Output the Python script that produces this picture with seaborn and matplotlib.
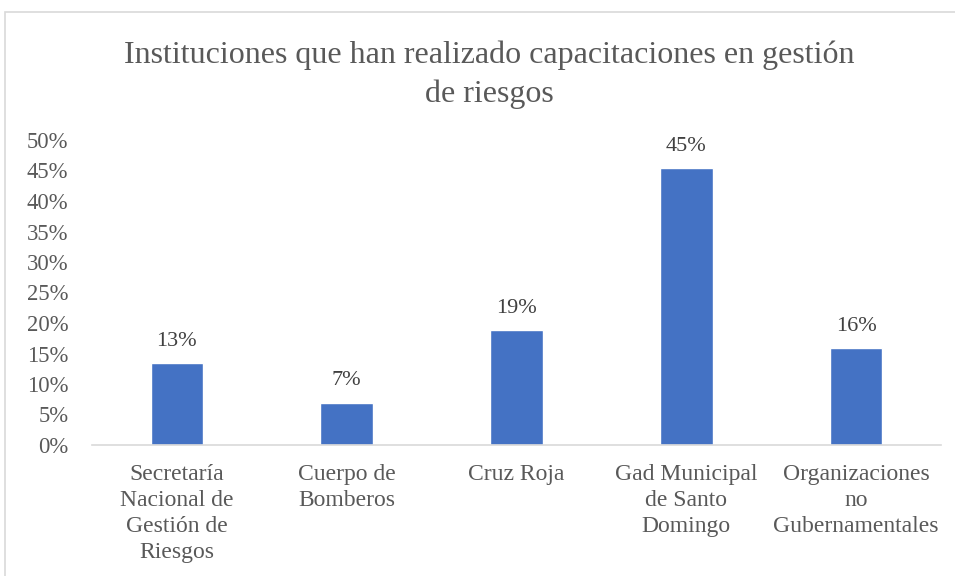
import matplotlib
matplotlib.use("Agg")
import matplotlib.pyplot as plt
import matplotlib.patches as patches
from matplotlib.ticker import PercentFormatter
import seaborn as sns
import pandas as pd

# data
categorias = [
    "Secretaría\nNacional de\nGestión de\nRiesgos",
    "Cuerpo de\nBomberos",
    "Cruz Roja",
    "Gad Municipal\nde Santo\nDomingo",
    "Organizaciones\nno\nGubernamentales",
]
porcentajes = [0.134, 0.069, 0.188, 0.454, 0.159]
titulo = "Instituciones que han realizado capacitaciones en gestión\nde riesgos"

sns.set_style("white")
plt.rcParams['font.family'] = ['Liberation Serif', 'DejaVu Serif']

df = pd.DataFrame({"cat": categorias, "val": porcentajes})

fig = plt.figure(figsize=(9.55, 5.76), dpi=100)
ax = fig.add_axes([92 / 955, 1 - 445 / 576, (941 - 92) / 955, (445 - 140) / 576])

sns.barplot(data=df, x="cat", y="val", color="#4472C4", width=0.31,
            saturation=1, ax=ax)

ax.set_ylim(0, 0.5)
ax.set_xlim(-0.5, len(categorias) - 0.5)
ax.set_yticks([i * 0.05 for i in range(11)])
ax.yaxis.set_major_formatter(PercentFormatter(1.0, decimals=0))
ax.set_xlabel("")
ax.set_ylabel("")

for s in ["top", "right", "left"]:
    ax.spines[s].set_visible(False)
ax.spines["bottom"].set_color("#d9d9d9")
ax.spines["bottom"].set_linewidth(1.2)

ax.tick_params(axis="y", length=0, pad=17, labelsize=16.3, labelcolor="#595959")
ax.tick_params(axis="x", length=0, pad=14, labelsize=17, labelcolor="#595959")
for lab in ax.get_xticklabels():
    lab.set_linespacing(1.3)

ax.bar_label(ax.containers[0], labels=[f"{round(v * 100)}%" for v in porcentajes],
             padding=9, fontsize=16, color="#404040")

fig.text(489 / 955, 1 - 75 / 576, titulo, ha="center", va="center",
         fontsize=23, color="#595959", linespacing=1.42)

# chart frame
fig.patches.append(patches.Rectangle((5 / 955, -0.01), 1.0, 1 - 12 / 576 + 0.01,
                                     transform=fig.transFigure, fill=False,
                                     edgecolor="#d9d9d9", linewidth=1.2))

fig.savefig("out.png", dpi=100)
